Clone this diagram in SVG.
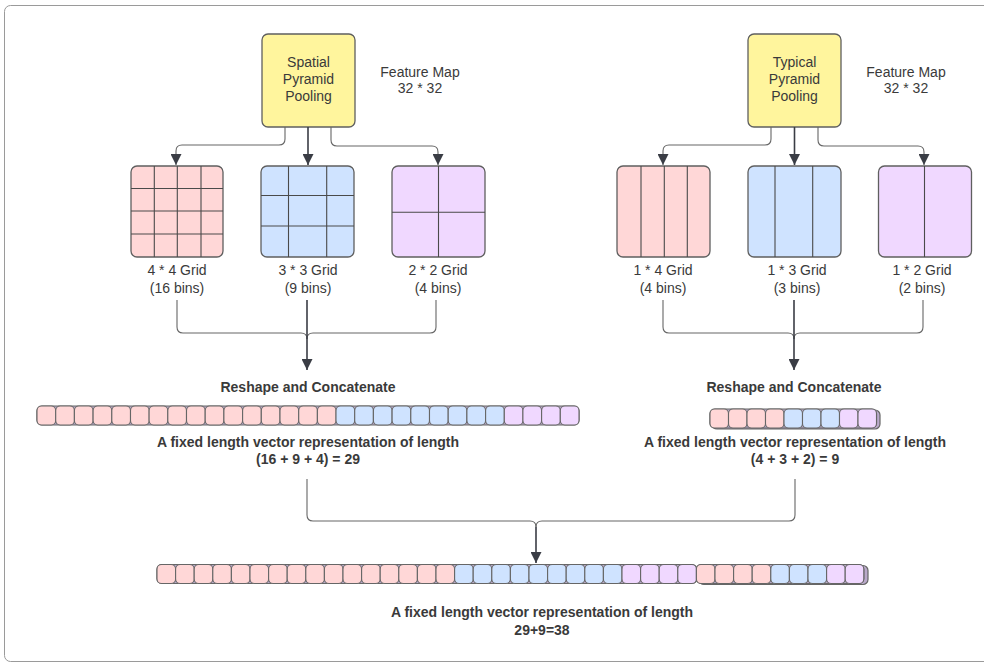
<svg xmlns="http://www.w3.org/2000/svg" width="984" height="664" viewBox="0 0 984 664">
<defs>
<marker id="arr" viewBox="0 0 10 10" refX="10" refY="5" markerWidth="14" markerHeight="11" markerUnits="userSpaceOnUse" orient="auto">
<path d="M0,0 L10,5 L0,10 z" fill="#3a3d45"/>
</marker>
<style>
.lbl{font-family:"Liberation Sans",Arial,sans-serif;font-size:14px;fill:#3a3a3a;text-anchor:middle}
.bold{font-family:"Liberation Sans",Arial,sans-serif;font-size:14px;font-weight:bold;fill:#3a3a3a;text-anchor:middle}
.box{stroke:#5f5f5f;stroke-width:1.3}
.yel{fill:#fff59d}
.pk{fill:#ffd7d7}
.bl{fill:#cfe3ff}
.pu{fill:#f0d8ff}
.gl{stroke:#4a4a4a;stroke-width:1.1;fill:none}
.cell{stroke:#666;stroke-width:1.1}
.vec{fill:#b9a9c9;stroke:#666;stroke-width:1.2}
.con{fill:none;stroke:#666;stroke-width:1.1}
.arrow{fill:none;stroke:#3a3d45;stroke-width:1.6}
</style>
</defs>
<rect x="4.5" y="5.5" width="1000" height="656" rx="6" fill="#fff" stroke="#9a9a9a" stroke-width="1"/>

<g id="spp-box">
<rect class="box yel" x="262" y="34" width="93" height="93" rx="6"/>
<text class="lbl" x="308.5" y="67">Spatial</text>
<text class="lbl" x="308.5" y="84">Pyramid</text>
<text class="lbl" x="308.5" y="101">Pooling</text>
</g>
<g id="feature-map-left">
<text class="lbl" x="420" y="77">Feature Map</text>
<text class="lbl" x="420" y="93">32 * 32</text>
</g>

<g id="tpp-box">
<rect class="box yel" x="748" y="34" width="93" height="93" rx="6"/>
<text class="lbl" x="794.5" y="67">Typical</text>
<text class="lbl" x="794.5" y="84">Pyramid</text>
<text class="lbl" x="794.5" y="101">Pooling</text>
</g>
<g id="feature-map-right">
<text class="lbl" x="906" y="77">Feature Map</text>
<text class="lbl" x="906" y="93">32 * 32</text>
</g>

<g id="grid-4x4">
<rect class="box pk" x="131" y="166" width="92" height="91" rx="6"/>
<path class="gl" d="M154.3,166V257M177.3,166V257M201,166V257M131,188.5H223M131,211H223M131,234H223"/>
<text class="lbl" x="177" y="275">4 * 4 Grid</text>
<text class="lbl" x="177" y="293">(16 bins)</text>
</g>
<g id="grid-3x3">
<rect class="box bl" x="261" y="166" width="93" height="91" rx="6"/>
<path class="gl" d="M288.5,166V257M326.7,166V257M261,195.5H354M261,226H354"/>
<text class="lbl" x="308" y="275">3 * 3 Grid</text>
<text class="lbl" x="308" y="293">(9 bins)</text>
</g>
<g id="grid-2x2">
<rect class="box pu" x="392" y="166" width="93" height="91" rx="6"/>
<path class="gl" d="M438.5,166V257M392,212.3H485"/>
<text class="lbl" x="438" y="275">2 * 2 Grid</text>
<text class="lbl" x="438" y="293">(4 bins)</text>
</g>

<g id="grid-1x4">
<rect class="box pk" x="617" y="166" width="93" height="91" rx="6"/>
<path class="gl" d="M641,166V257M664.3,166V257M687.3,166V257"/>
<text class="lbl" x="663" y="275">1 * 4 Grid</text>
<text class="lbl" x="663" y="293">(4 bins)</text>
</g>
<g id="grid-1x3">
<rect class="box bl" x="748" y="166" width="93" height="91" rx="6"/>
<path class="gl" d="M775,166V257M812.7,166V257"/>
<text class="lbl" x="797" y="275">1 * 3 Grid</text>
<text class="lbl" x="797" y="293">(3 bins)</text>
</g>
<g id="grid-1x2">
<rect class="box pu" x="878.5" y="166" width="93" height="91" rx="6"/>
<path class="gl" d="M924.5,166V257"/>
<text class="lbl" x="922" y="275">1 * 2 Grid</text>
<text class="lbl" x="922" y="293">(2 bins)</text>
</g>

<g id="reshape-left">
<text class="bold" x="308" y="392">Reshape and Concatenate</text>
</g>
<g id="reshape-right">
<text class="bold" x="794" y="392">Reshape and Concatenate</text>
</g>

<g id="vector-29">
<rect class="vec" x="37" y="406" width="542" height="19" rx="5"/>
<g class="cell">
<rect class="pk" x="37" y="406" width="18.7" height="19" rx="4.5"/>
<rect class="pk" x="55.7" y="406" width="18.7" height="19" rx="4.5"/>
<rect class="pk" x="74.4" y="406" width="18.7" height="19" rx="4.5"/>
<rect class="pk" x="93.1" y="406" width="18.7" height="19" rx="4.5"/>
<rect class="pk" x="111.8" y="406" width="18.7" height="19" rx="4.5"/>
<rect class="pk" x="130.5" y="406" width="18.7" height="19" rx="4.5"/>
<rect class="pk" x="149.1" y="406" width="18.7" height="19" rx="4.5"/>
<rect class="pk" x="167.8" y="406" width="18.7" height="19" rx="4.5"/>
<rect class="pk" x="186.5" y="406" width="18.7" height="19" rx="4.5"/>
<rect class="pk" x="205.2" y="406" width="18.7" height="19" rx="4.5"/>
<rect class="pk" x="223.9" y="406" width="18.7" height="19" rx="4.5"/>
<rect class="pk" x="242.6" y="406" width="18.7" height="19" rx="4.5"/>
<rect class="pk" x="261.3" y="406" width="18.7" height="19" rx="4.5"/>
<rect class="pk" x="280" y="406" width="18.7" height="19" rx="4.5"/>
<rect class="pk" x="298.7" y="406" width="18.7" height="19" rx="4.5"/>
<rect class="pk" x="317.4" y="406" width="18.7" height="19" rx="4.5"/>
<rect class="bl" x="336" y="406" width="18.7" height="19" rx="4.5"/>
<rect class="bl" x="354.7" y="406" width="18.7" height="19" rx="4.5"/>
<rect class="bl" x="373.4" y="406" width="18.7" height="19" rx="4.5"/>
<rect class="bl" x="392.1" y="406" width="18.7" height="19" rx="4.5"/>
<rect class="bl" x="410.8" y="406" width="18.7" height="19" rx="4.5"/>
<rect class="bl" x="429.5" y="406" width="18.7" height="19" rx="4.5"/>
<rect class="bl" x="448.2" y="406" width="18.7" height="19" rx="4.5"/>
<rect class="bl" x="466.9" y="406" width="18.7" height="19" rx="4.5"/>
<rect class="bl" x="485.6" y="406" width="18.7" height="19" rx="4.5"/>
<rect class="pu" x="504.3" y="406" width="18.7" height="19" rx="4.5"/>
<rect class="pu" x="522.9" y="406" width="18.7" height="19" rx="4.5"/>
<rect class="pu" x="541.6" y="406" width="18.7" height="19" rx="4.5"/>
<rect class="pu" x="560.3" y="406" width="18.7" height="19" rx="4.5"/>
</g>
<text class="bold" x="308" y="447">A fixed length vector representation of length</text>
<text class="bold" x="308" y="464">(16 + 9 + 4) = 29</text>
</g>

<g id="vector-9">
<rect class="vec" x="712" y="410" width="168" height="19" rx="5"/>
<rect class="vec" x="710" y="409" width="166.5" height="19" rx="5"/>
<g class="cell">
<rect class="pk" x="710" y="409" width="18.5" height="19" rx="4.5"/>
<rect class="pk" x="728.5" y="409" width="18.5" height="19" rx="4.5"/>
<rect class="pk" x="747" y="409" width="18.5" height="19" rx="4.5"/>
<rect class="pk" x="765.5" y="409" width="18.5" height="19" rx="4.5"/>
<rect class="bl" x="784" y="409" width="18.5" height="19" rx="4.5"/>
<rect class="bl" x="802.5" y="409" width="18.5" height="19" rx="4.5"/>
<rect class="bl" x="821" y="409" width="18.5" height="19" rx="4.5"/>
<rect class="pu" x="839.5" y="409" width="18.5" height="19" rx="4.5"/>
<rect class="pu" x="858" y="409" width="18.5" height="19" rx="4.5"/>
</g>
<text class="bold" x="795" y="447">A fixed length vector representation of length</text>
<text class="bold" x="795" y="464">(4 + 3 + 2) = 9</text>
</g>

<g id="vector-38">
<rect class="vec" x="157" y="564.5" width="540" height="19" rx="5"/>
<rect class="vec" x="699" y="565.5" width="169" height="19" rx="5"/>
<rect class="vec" x="696.4" y="564.5" width="167.4" height="19" rx="5"/>
<g class="cell">
<rect class="pk" x="157" y="564.5" width="18.6" height="19" rx="4.5"/>
<rect class="pk" x="175.6" y="564.5" width="18.6" height="19" rx="4.5"/>
<rect class="pk" x="194.2" y="564.5" width="18.6" height="19" rx="4.5"/>
<rect class="pk" x="212.8" y="564.5" width="18.6" height="19" rx="4.5"/>
<rect class="pk" x="231.4" y="564.5" width="18.6" height="19" rx="4.5"/>
<rect class="pk" x="250" y="564.5" width="18.6" height="19" rx="4.5"/>
<rect class="pk" x="268.6" y="564.5" width="18.6" height="19" rx="4.5"/>
<rect class="pk" x="287.2" y="564.5" width="18.6" height="19" rx="4.5"/>
<rect class="pk" x="305.8" y="564.5" width="18.6" height="19" rx="4.5"/>
<rect class="pk" x="324.4" y="564.5" width="18.6" height="19" rx="4.5"/>
<rect class="pk" x="343" y="564.5" width="18.6" height="19" rx="4.5"/>
<rect class="pk" x="361.6" y="564.5" width="18.6" height="19" rx="4.5"/>
<rect class="pk" x="380.2" y="564.5" width="18.6" height="19" rx="4.5"/>
<rect class="pk" x="398.8" y="564.5" width="18.6" height="19" rx="4.5"/>
<rect class="pk" x="417.4" y="564.5" width="18.6" height="19" rx="4.5"/>
<rect class="pk" x="436" y="564.5" width="18.6" height="19" rx="4.5"/>
<rect class="bl" x="454.6" y="564.5" width="18.6" height="19" rx="4.5"/>
<rect class="bl" x="473.2" y="564.5" width="18.6" height="19" rx="4.5"/>
<rect class="bl" x="491.8" y="564.5" width="18.6" height="19" rx="4.5"/>
<rect class="bl" x="510.4" y="564.5" width="18.6" height="19" rx="4.5"/>
<rect class="bl" x="529" y="564.5" width="18.6" height="19" rx="4.5"/>
<rect class="bl" x="547.6" y="564.5" width="18.6" height="19" rx="4.5"/>
<rect class="bl" x="566.2" y="564.5" width="18.6" height="19" rx="4.5"/>
<rect class="bl" x="584.8" y="564.5" width="18.6" height="19" rx="4.5"/>
<rect class="bl" x="603.4" y="564.5" width="18.6" height="19" rx="4.5"/>
<rect class="pu" x="622" y="564.5" width="18.6" height="19" rx="4.5"/>
<rect class="pu" x="640.6" y="564.5" width="18.6" height="19" rx="4.5"/>
<rect class="pu" x="659.2" y="564.5" width="18.6" height="19" rx="4.5"/>
<rect class="pu" x="677.8" y="564.5" width="18.6" height="19" rx="4.5"/>
<rect class="pk" x="696.4" y="564.5" width="18.6" height="19" rx="4.5"/>
<rect class="pk" x="715" y="564.5" width="18.6" height="19" rx="4.5"/>
<rect class="pk" x="733.6" y="564.5" width="18.6" height="19" rx="4.5"/>
<rect class="pk" x="752.2" y="564.5" width="18.6" height="19" rx="4.5"/>
<rect class="bl" x="770.8" y="564.5" width="18.6" height="19" rx="4.5"/>
<rect class="bl" x="789.4" y="564.5" width="18.6" height="19" rx="4.5"/>
<rect class="bl" x="808" y="564.5" width="18.6" height="19" rx="4.5"/>
<rect class="pu" x="826.6" y="564.5" width="18.6" height="19" rx="4.5"/>
<rect class="pu" x="845.2" y="564.5" width="18.6" height="19" rx="4.5"/>
</g>
<text class="bold" x="542" y="617">A fixed length vector representation of length</text>
<text class="bold" x="542" y="635">29+9=38</text>
</g>

<g id="connectors">
<path class="con" d="M285,127V139Q285,145 279,145H182Q176,145 176,151V165" marker-end="url(#arr)"/>
<path class="arrow" d="M308,127V165" marker-end="url(#arr)"/>
<path class="con" d="M331,127V140Q331,146 337,146H432Q438,146 438,152V165" marker-end="url(#arr)"/>

<path class="con" d="M771,127V139Q771,145 765,145H669Q663,145 663,151V165" marker-end="url(#arr)"/>
<path class="arrow" d="M794.5,127V165" marker-end="url(#arr)"/>
<path class="con" d="M818,127V140Q818,146 824,146H918Q924,146 924,152V165" marker-end="url(#arr)"/>

<path class="con" d="M177,300V327Q177,333 183,333H301Q307,333 307,339"/>
<path class="con" d="M436,300V327Q436,333 430,333H313Q307,333 307,339"/>
<path class="arrow" d="M307,300V370" marker-end="url(#arr)"/>

<path class="con" d="M663,300V327Q663,333 669,333H788Q794,333 794,339"/>
<path class="con" d="M923,300V327Q923,333 917,333H800Q794,333 794,339"/>
<path class="arrow" d="M794,300V370" marker-end="url(#arr)"/>

<path class="con" d="M307,479V515Q307,521 313,521H530Q536,521 536,527"/>
<path class="con" d="M795,479V515Q795,521 789,521H542Q536,521 536,527"/>
<path class="arrow" d="M536,527V563" marker-end="url(#arr)"/>
</g>
</svg>
